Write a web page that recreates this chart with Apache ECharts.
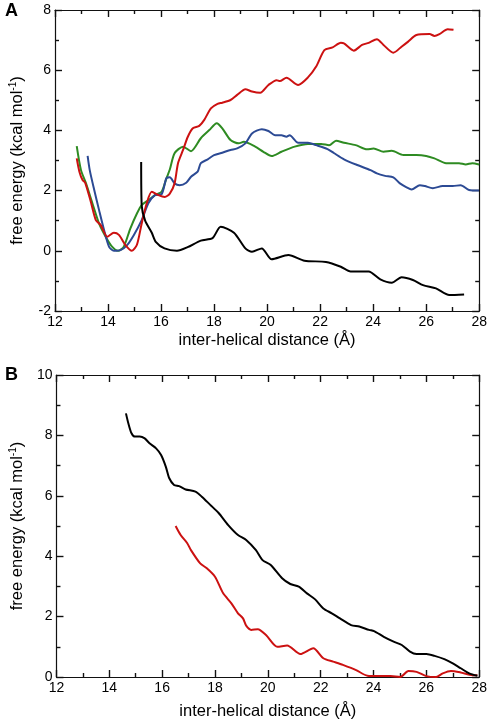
<!DOCTYPE html>
<html><head><meta charset="utf-8">
<script src="https://cdn.jsdelivr.net/npm/echarts@6/dist/echarts.min.js"></script>
<style>html,body{margin:0;padding:0;background:#fff}#c{width:490px;height:723px}</style>
</head><body><div id="c"></div>
<script>
// Panel A: free energy vs inter-helical distance
const aBlack = [[15.25,2.95],[15.27,1.5],[15.4,1.0],[15.65,0.6],[15.8,0.3],[16.13,0.08],[16.6,0.0],[17.0,0.12],[17.5,0.34],[17.94,0.42],[18.25,0.8],[18.75,0.6],[19.18,0.08],[19.43,-0.03],[19.8,0.08],[20.17,-0.28],[20.8,-0.14],[21.41,-0.33],[22.22,-0.37],[22.78,-0.53],[23.15,-0.69],[23.83,-0.69],[24.27,-0.95],[24.7,-1.06],[25.07,-0.88],[25.5,-0.97],[25.88,-1.14],[26.37,-1.25],[26.87,-1.47],[27.43,-1.45]];
const aRed = [[12.82,3.07],[12.92,2.63],[13.04,2.35],[13.14,2.26],[13.35,1.63],[13.54,1.02],[13.72,0.86],[13.97,0.47],[14.22,0.6],[14.41,0.53],[14.65,0.2],[14.9,0.0],[15.09,0.2],[15.27,0.91],[15.46,1.58],[15.65,1.96],[15.9,1.85],[16.14,1.79],[16.33,1.9],[16.51,2.24],[16.64,2.91],[16.83,3.35],[17.01,3.79],[17.2,4.07],[17.44,4.15],[17.63,4.35],[17.88,4.73],[18.13,4.88],[18.31,4.92],[18.62,5.01],[18.87,5.18],[19.18,5.37],[19.43,5.29],[19.74,5.25],[20.05,5.51],[20.36,5.67],[20.48,5.64],[20.73,5.75],[21.17,5.51],[21.54,5.76],[21.85,6.12],[22.16,6.67],[22.47,6.76],[22.78,6.91],[22.9,6.89],[23.27,6.65],[23.58,6.84],[23.83,6.91],[24.14,7.03],[24.39,6.84],[24.76,6.58],[25.07,6.78],[25.32,6.95],[25.63,7.17],[26.13,7.2],[26.31,7.14],[26.5,7.2],[26.81,7.36],[27.03,7.34]];
const aGreen = [[12.82,3.48],[12.98,2.68],[13.17,2.24],[13.41,1.58],[13.66,0.91],[13.91,0.47],[14.16,0.13],[14.38,0.0],[14.59,0.13],[14.84,0.74],[15.09,1.24],[15.27,1.52],[15.52,1.68],[15.77,1.85],[16.02,1.96],[16.2,2.4],[16.33,2.7],[16.51,3.24],[16.83,3.46],[17.13,3.31],[17.5,3.74],[17.82,4.01],[18.1,4.24],[18.31,4.07],[18.62,3.68],[18.93,3.57],[19.12,3.62],[19.55,3.46],[19.86,3.29],[20.17,3.15],[20.54,3.29],[21.04,3.46],[21.54,3.55],[22.04,3.55],[22.34,3.51],[22.6,3.66],[22.9,3.59],[23.34,3.51],[23.77,3.37],[24.02,3.4],[24.39,3.29],[24.7,3.32],[25.14,3.18],[25.63,3.18],[26.0,3.15],[26.31,3.07],[26.75,2.91],[27.24,2.91],[27.49,2.87],[27.74,2.91],[28.0,2.87]];
const aBlue = [[13.23,3.15],[13.31,2.68],[13.48,2.02],[13.66,1.36],[13.85,0.69],[14.04,0.13],[14.22,0.0],[14.47,0.02],[14.72,0.19],[14.97,0.52],[15.27,1.02],[15.52,1.58],[15.77,1.85],[16.02,1.88],[16.2,2.41],[16.33,2.44],[16.51,2.24],[16.7,2.18],[16.95,2.26],[17.13,2.46],[17.38,2.63],[17.5,2.91],[17.76,3.04],[18.0,3.18],[18.31,3.26],[18.62,3.35],[18.87,3.4],[19.18,3.57],[19.43,3.9],[19.8,4.04],[20.05,3.98],[20.3,3.84],[20.54,3.84],[20.73,3.79],[20.85,3.84],[21.17,3.59],[21.54,3.59],[21.85,3.51],[22.28,3.38],[22.53,3.24],[22.9,3.04],[23.4,2.85],[23.9,2.68],[24.14,2.57],[24.45,2.49],[24.76,2.44],[25.01,2.24],[25.26,2.11],[25.45,2.04],[25.76,2.18],[25.95,2.15],[26.25,2.08],[26.62,2.15],[27.0,2.15],[27.3,2.18],[27.62,2.02],[27.99,2.0]];
// Panel B
const bBlack = [[14.63,8.73],[14.72,8.4],[14.84,8.07],[14.97,7.96],[15.15,7.96],[15.34,7.9],[15.52,7.74],[15.77,7.57],[15.96,7.35],[16.14,6.96],[16.27,6.58],[16.45,6.36],[16.64,6.32],[16.89,6.21],[17.26,6.14],[17.5,5.97],[17.82,5.7],[18.13,5.44],[18.5,5.03],[18.87,4.7],[19.18,4.54],[19.55,4.2],[19.8,3.87],[20.11,3.71],[20.54,3.27],[20.85,3.08],[21.17,2.99],[21.48,2.77],[21.79,2.57],[22.1,2.27],[22.42,2.11],[22.73,1.94],[23.15,1.72],[23.46,1.67],[23.83,1.56],[24.02,1.52],[24.39,1.33],[24.76,1.17],[25.07,1.06],[25.38,0.84],[25.63,0.76],[26.0,0.76],[26.31,0.7],[26.68,0.59],[27.0,0.45],[27.3,0.29],[27.62,0.12],[27.93,0.04]];
const bRed = [[16.51,5.0],[16.7,4.7],[16.95,4.43],[17.09,4.2],[17.44,3.76],[17.69,3.6],[18.0,3.32],[18.31,2.77],[18.62,2.44],[18.87,2.11],[19.06,1.94],[19.18,1.7],[19.37,1.56],[19.62,1.58],[19.93,1.39],[20.36,1.0],[20.73,1.04],[21.23,0.76],[21.72,0.95],[22.1,0.62],[22.47,0.51],[22.84,0.4],[23.34,0.23],[23.77,0.04],[24.14,0.03],[24.64,0.03],[25.01,0.0],[25.32,0.2],[25.63,0.17],[26.0,0.03],[26.37,0.0],[26.62,0.12],[26.93,0.2],[27.3,0.15],[27.74,0.06],[27.93,0.06]];

const xTicks = {min: 12, max: 28, interval: 2};
const yTicksA = {min: -2, max: 8, interval: 2};
const yTicksB = {min: 0, max: 10, interval: 2};

const FONT = 'Liberation Sans, Arial, Helvetica, sans-serif';
const lineC = '#111';
function axisBase(extra) {
  return Object.assign({
    type: 'value',
    axisLine: {show: true, onZero: false, lineStyle: {color: lineC, width: 1.2}},
    axisTick: {show: true, inside: true, length: 7, lineStyle: {color: lineC, width: 1.4}},
    minorTick: {show: true, splitNumber: 2, length: 4, lineStyle: {color: lineC, width: 1.4}},
    splitLine: {show: false},
    minorSplitLine: {show: false},
    axisLabel: {show: true, color: '#000', fontSize: 14, fontFamily: FONT, margin: 4}
  }, extra);
}
const yName = {
  name: '{a|free energy (kcal mol}{s|-1}{a|)}',
  nameLocation: 'middle', nameGap: 28,
  nameTextStyle: {rich: {
    a: {fontSize: 16.5, fontFamily: FONT, color: '#000'},
    s: {fontSize: 10, fontFamily: FONT, color: '#000', padding: [0, 0, 9, 0]}
  }}
};
function xName(gap) {
  return {name: 'inter-helical distance (Å)', nameLocation: 'middle', nameGap: gap,
    nameTextStyle: {fontSize: 16.5, fontFamily: FONT, color: '#000'}};
}

const grids = [
  {left: 52, top: 10, width: 430, height: 301},
  {left: 52, top: 375, width: 430, height: 302}
];
const xAxes = [], yAxes = [];
[0, 1].forEach(g => {
  xAxes.push(axisBase(Object.assign({gridIndex: g, position: 'bottom'}, xTicks, xName(g === 0 ? 21 : 26))));
  xAxes.push(axisBase(Object.assign({gridIndex: g, position: 'top', axisLabel: {show: false}}, xTicks)));
  const yt = g === 0 ? yTicksA : yTicksB;
  yAxes.push(axisBase(Object.assign({gridIndex: g, position: 'left'}, yt, yName)));
  yAxes.push(axisBase(Object.assign({gridIndex: g, position: 'right', axisLabel: {show: false}}, yt)));
});

function ser(data, color, g) {
  return {type: 'line', data: data, xAxisIndex: g * 2, yAxisIndex: g * 2,
    showSymbol: false, smooth: 0.25, lineStyle: {color: color, width: 2}, itemStyle: {color: color}, z: 3};
}
const RED = '#cc1111', GREEN = '#2e8b22', BLUE = '#2c4a94', BLACK = '#000';
const option = {
  animation: false,
  backgroundColor: '#fff',
  title: [
    {text: 'A', left: 0, top: -3, textStyle: {fontSize: 18, fontWeight: 'bold', fontFamily: FONT, color: '#000'}},
    {text: 'B', left: 0, top: 361, textStyle: {fontSize: 18, fontWeight: 'bold', fontFamily: FONT, color: '#000'}}
  ],
  grid: grids,
  xAxis: xAxes,
  yAxis: yAxes,
  series: [
    ser(aGreen, GREEN, 0), ser(aBlue, BLUE, 0), ser(aRed, RED, 0), ser(aBlack, BLACK, 0),
    ser(bRed, RED, 1), ser(bBlack, BLACK, 1)
  ]
};
echarts.init(document.getElementById('c'), null, {renderer: 'canvas'}).setOption(option);
</script></body></html>
